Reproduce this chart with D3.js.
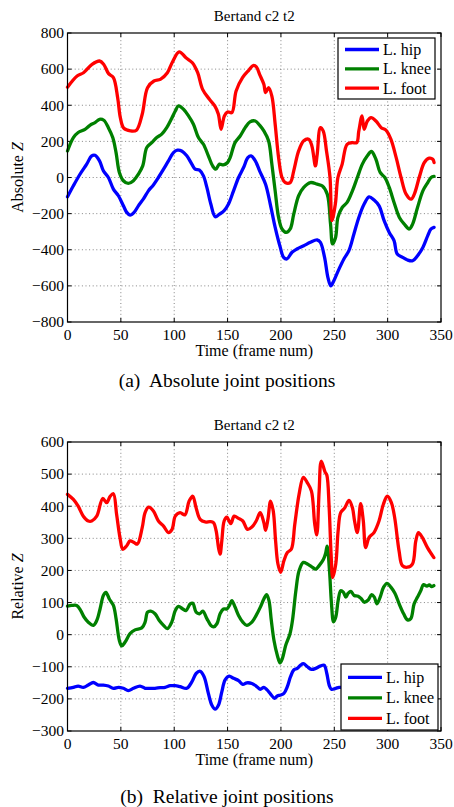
<!DOCTYPE html>
<html>
<head>
<meta charset="utf-8">
<script src="https://cdn.jsdelivr.net/npm/d3@7"></script>
<style>
body{margin:0;background:#fff;}
svg{display:block;}
text{font-family:"Liberation Serif","Times New Roman",serif;fill:#000;}
</style>
</head>
<body>
<div id="chart"></div>
<script>
// frame number, z value pairs
var absHip = [[0,-107],[5.5,-46],[11.7,18],[18,74],[22.7,120],[25.8,123],[30,92],[33.6,37],[38.3,0],[43,-64],[47.7,-101],[52.4,-157],[55.5,-193],[58.6,-208],[62.4,-193],[66.4,-157],[71,-120],[75.8,-74],[80.5,-41],[85.2,0],[90,46],[94.6,92],[99.3,138],[103,151],[107,147],[111.8,120],[116.5,74],[119.6,46],[123.7,41],[127.4,9],[130.6,-55],[134.3,-147],[138.4,-217],[142.4,-203],[146.8,-184],[150.9,-147],[155.6,-74],[160.3,0],[165,55],[169,110],[172,120],[176,92],[180,37],[185.6,-37],[190,-147],[194.6,-276],[199.4,-387],[202.5,-442],[205.6,-451],[210.4,-414],[215,-396],[221.4,-378],[227.6,-359],[234,-346],[237,-359],[240.9,-442],[244,-553],[246.7,-600],[249.6,-571],[254.4,-507],[259,-451],[263.7,-405],[268.4,-313],[273,-221],[278,-147],[282.6,-107],[287.3,-125],[292,-157],[296.7,-239],[301.5,-304],[306,-350],[309,-424],[314,-442],[318.6,-457],[323.4,-461],[328,-433],[333,-387],[337.6,-322],[340.7,-285],[343.5,-276]];
var absKnee = [[0,147],[5.5,221],[10,249],[16.4,267],[21,289],[25.8,304],[30,322],[34,317],[38.3,276],[42.4,221],[45.5,138],[48.6,28],[52.4,-18],[57,-33],[61.8,-18],[66.4,18],[70.5,64],[74.3,166],[79,193],[83.6,221],[88.3,240],[93,276],[97.7,328],[101,368],[104,396],[108.7,378],[113.4,341],[118,295],[122.7,221],[127.4,184],[132,120],[136,64],[139,46],[142.4,74],[146,70],[150,83],[152.4,110],[157,193],[161.8,230],[166.5,276],[171,308],[176,313],[180,290],[184,258],[188.4,203],[191.5,74],[194.6,-74],[197.8,-221],[201,-285],[205,-304],[208.7,-285],[212,-203],[216.6,-101],[221.4,-55],[227.6,-28],[234,-37],[238.6,-46],[243.4,-92],[246.5,-258],[248.4,-368],[251.2,-332],[253.4,-221],[257.4,-166],[262,-138],[267,-74],[271.6,0],[276.3,74],[281,120],[284.8,144],[289,101],[293,28],[297.4,0],[301.5,-55],[306,-138],[311,-221],[315.6,-258],[320.3,-285],[323.4,-258],[328,-166],[333,-74],[337.6,-28],[340.7,0],[343.5,6]];
var absFoot = [[0,500],[9,562],[15,580],[23,626],[30,645],[34,626],[38.5,575],[43,553],[47,442],[49.5,332],[52.7,273],[59,258],[64.6,262],[70,350],[75,497],[81,534],[87,543],[93.6,580],[98,635],[104.6,696],[111,663],[117,635],[122,580],[126.6,488],[133,433],[138,396],[141.4,350],[143.9,267],[147,341],[150,363],[154,359],[158,479],[164,553],[170,595],[174,620],[177,612],[180,571],[184,516],[185.6,470],[188.4,497],[191.5,451],[194.6,295],[197.8,110],[201,0],[204,-28],[208.7,-28],[212,37],[216.6,147],[221.4,203],[226,212],[229,175],[232.3,64],[234,129],[237,276],[239.6,258],[242.7,147],[246,0],[247.8,-239],[251,-147],[253.4,0],[257.4,74],[262,184],[267,193],[271,193],[273,258],[276,341],[278,267],[281,313],[284.5,332],[289,313],[294,276],[298.4,262],[303,212],[308,110],[312.6,0],[317.3,-92],[322,-120],[325,-92],[330,9],[334.4,83],[339,107],[342.3,101],[343.5,83]];

var relHip = [[0,-167],[5.5,-164],[10,-160],[14.8,-164],[19.5,-157],[24.2,-149],[29,-157],[33.6,-157],[38.3,-160],[43,-167],[47.7,-164],[52.4,-167],[57,-174],[61.8,-167],[68,-160],[72.7,-167],[77.4,-167],[82,-167],[86.8,-165],[91.5,-164],[96.2,-159],[100.8,-159],[105.5,-162],[111.8,-167],[116.5,-147],[120.5,-121],[124.3,-114],[128,-131],[132,-183],[135.2,-219],[138.4,-232],[141.5,-219],[144.6,-178],[147.7,-141],[151.5,-129],[155.6,-136],[160.3,-143],[164.3,-155],[168,-150],[172.8,-152],[176.8,-160],[180.6,-170],[184,-164],[187,-172],[190.3,-185],[194,-198],[196.6,-191],[199.7,-188],[202.8,-183],[206,-162],[209,-131],[212,-110],[215.3,-105],[218.4,-95],[221,-90],[224.8,-100],[228.6,-108],[232.6,-105],[236.7,-98],[240.5,-95],[243,-121],[245.2,-157],[247.3,-170],[251.4,-167],[254.5,-164],[260,-165]];
var relKnee = [[0,89],[4,91],[8.6,91],[12.4,75],[15.5,55],[19.5,39],[24.2,29],[27.4,44],[30.5,80],[33.6,122],[36,132],[39.2,111],[43,91],[45.5,50],[48.6,-18],[50.8,-35],[54,-23],[58.6,3],[63.3,15],[69.6,21],[72.7,39],[75,70],[78,73],[82,65],[86,44],[90,29],[93.6,19],[97.7,39],[101,75],[104,88],[108,80],[111,75],[115,96],[117.4,98],[120.5,70],[123.7,65],[126.8,73],[130.6,50],[134.3,29],[136.8,24],[140,34],[143,65],[146.2,80],[149.3,80],[152,93],[154,106],[157,86],[160.3,60],[164.3,39],[168,29],[172.8,39],[176.8,60],[180.6,85],[184,111],[186.6,125],[188.8,106],[191,44],[193.5,-18],[196.6,-64],[199.2,-88],[201.4,-74],[204.5,-33],[208.5,3],[210.8,44],[214,137],[217,199],[221,225],[224.8,220],[228.6,212],[232.6,204],[235.8,215],[239.9,235],[242,255],[243.3,276],[245.5,200],[247.3,100],[249.3,40],[251.4,55],[253.6,106],[256,137],[258.6,132],[260.8,117],[263,129],[265.5,135],[268.6,122],[272.4,120],[275.5,111],[278,101],[281.8,108],[285,125],[287.5,117],[290,96],[293,117],[296.2,148],[299.4,160],[303,148],[306.8,129],[310.8,96],[315,65],[318.6,46],[321.7,50],[324.8,96],[328,117],[331,137],[333.6,156],[336.8,151],[339,155],[341,150],[343.3,153]];
var relFoot = [[0,437],[5.5,421],[10,400],[14.8,369],[19.5,354],[22.7,354],[27.4,369],[33,424],[36.7,411],[40,431],[43,439],[46,375],[49.2,302],[51.8,266],[55.5,277],[58.6,292],[62.4,287],[65.5,282],[70,333],[72.7,380],[76,397],[80.5,385],[85.2,354],[90,338],[94.6,318],[98,328],[101,369],[105.5,380],[110,373],[114,416],[117.4,431],[120.5,395],[124.3,359],[129,351],[133.7,352],[136.8,349],[139.3,323],[141.5,271],[143,251],[144.6,292],[146.8,354],[149.3,366],[153,346],[156.2,369],[160.3,362],[164.3,354],[168.7,328],[172.8,335],[176.8,354],[180.6,380],[184,349],[185.6,325],[187.8,359],[190.3,416],[192.8,385],[195,292],[197.2,220],[199.7,194],[202.8,230],[206,256],[209.7,266],[213,344],[217,437],[221,490],[224.8,473],[228.6,447],[231.7,344],[233.6,311],[235.8,447],[237.8,540],[241.3,507],[243,497],[245.2,395],[247,251],[248.6,178],[251.4,220],[253.6,323],[256,380],[259.8,395],[263.8,418],[267,395],[269,354],[271.6,318],[274.7,408],[277.2,354],[279.4,271],[282.5,302],[287.2,318],[291.9,354],[296,406],[299.7,431],[303.5,411],[306.6,364],[310.7,261],[313.8,215],[318.5,210],[323.2,220],[326.4,292],[328.9,318],[332.6,302],[337.3,271],[343.3,240]];

var frameTicks = [0,50,100,150,200,250,300,350];
var absTicks = [-800,-600,-400,-200,0,200,400,600,800];
var relTicks = [-300,-200,-100,0,100,200,300,400,500,600];
var jointNames = ['L. hip','L. knee','L. foot'];
var jointColors = ['#0000ff','#008000','#ff0000'];

const width = 454;
const height = 807;
const left = 67.5, right = 441;

const svg = d3.select('#chart')
    .append('svg')
    .attr('width', width)
    .attr('height', height);

function drawPanel(p){
    var xScale = d3.scaleLinear().domain([0,350]).range([left, right]);
    var yScale = d3.scaleLinear().domain(p.yDomain).range([p.bottom, p.top]);
    var g = svg.append('g');

    // dotted grid
    g.selectAll('.vgrid').data(frameTicks.slice(1,-1)).join('line')
        .attr('x1', d => xScale(d)).attr('x2', d => xScale(d))
        .attr('y1', p.top).attr('y2', p.bottom)
        .attr('stroke', '#777').attr('stroke-width', 0.9).attr('stroke-dasharray', '1,2.6');
    g.selectAll('.hgrid').data(p.yTicks.slice(1,-1)).join('line')
        .attr('x1', left).attr('x2', right)
        .attr('y1', d => yScale(d)).attr('y2', d => yScale(d))
        .attr('stroke', '#777').attr('stroke-width', 0.9).attr('stroke-dasharray', '1,2.6');

    // inward ticks on all four sides
    var tl = 4;
    frameTicks.forEach(function(d){
        g.append('line').attr('x1', xScale(d)).attr('x2', xScale(d)).attr('y1', p.bottom).attr('y2', p.bottom - tl).attr('stroke', '#000');
        g.append('line').attr('x1', xScale(d)).attr('x2', xScale(d)).attr('y1', p.top).attr('y2', p.top + tl).attr('stroke', '#000');
    });
    p.yTicks.forEach(function(d){
        g.append('line').attr('x1', left).attr('x2', left + tl).attr('y1', yScale(d)).attr('y2', yScale(d)).attr('stroke', '#000');
        g.append('line').attr('x1', right).attr('x2', right - tl).attr('y1', yScale(d)).attr('y2', yScale(d)).attr('stroke', '#000');
    });

    var line = d3.line()
        .x(d => xScale(d[0]))
        .y(d => yScale(d[1]))
        .curve(d3.curveCatmullRom.alpha(0.5));

    p.series.forEach(function(s, i){
        g.append('path')
            .datum(s)
            .attr('d', line)
            .attr('fill', 'none')
            .attr('stroke', jointColors[i])
            .attr('stroke-width', 3.3)
            .attr('stroke-linejoin', 'round')
            .attr('stroke-linecap', 'round');
    });

    // frame
    g.append('rect')
        .attr('x', left).attr('y', p.top)
        .attr('width', right - left).attr('height', p.bottom - p.top)
        .attr('fill', 'none').attr('stroke', '#000').attr('stroke-width', 1.2);

    // tick labels
    g.selectAll('.xl').data(frameTicks).join('text')
        .attr('x', d => xScale(d)).attr('y', p.bottom + 18)
        .attr('text-anchor', 'middle').style('font-size', '15.5px')
        .text(d => d);
    var fmt = d3.format('d');
    g.selectAll('.yl').data(p.yTicks).join('text')
        .attr('x', left - 3.5).attr('y', d => yScale(d) + 5.3)
        .attr('text-anchor', 'end').style('font-size', '15.5px')
        .text(d => fmt(d));

    g.append('text')
        .attr('x', (left + right)/2).attr('y', p.bottom + 34)
        .attr('text-anchor', 'middle').style('font-size', '16px')
        .text('Time (frame num)');

    var yl = g.append('text')
        .attr('transform', 'translate(23,' + ((p.top + p.bottom)/2) + ') rotate(-90)')
        .attr('text-anchor', 'middle').style('font-size', '16px');
    yl.append('tspan').text(p.yLabel + ' ');
    yl.append('tspan').style('font-style', 'italic').text('Z');

    g.append('text')
        .attr('x', (left + right)/2).attr('y', p.top - 12.5)
        .attr('text-anchor', 'middle').style('font-size', '15px')
        .text('Bertand c2 t2');

    g.append('text')
        .attr('x', 227).attr('y', p.captionY)
        .attr('text-anchor', 'middle').style('font-size', '19.5px')
        .attr('xml:space', 'preserve')
        .text(p.caption);

    // legend
    var lg = p.legend;
    g.append('rect')
        .attr('x', lg.x).attr('y', lg.y)
        .attr('width', lg.w).attr('height', lg.h)
        .attr('fill', '#fff').attr('stroke', '#000').attr('stroke-width', 1.2);
    jointNames.forEach(function(n, i){
        var cy = lg.y + lg.first + i*lg.step;
        g.append('line')
            .attr('x1', lg.x + 7).attr('x2', lg.x + 41)
            .attr('y1', cy).attr('y2', cy)
            .attr('stroke', jointColors[i]).attr('stroke-width', 3.3);
        g.append('text')
            .attr('x', lg.x + 45).attr('y', cy + 5.5)
            .style('font-size', '16px')
            .text(n);
    });
}

drawPanel({
    top: 33, bottom: 322,
    yDomain: [-800, 800], yTicks: absTicks,
    series: [absHip, absKnee, absFoot],
    yLabel: 'Absolute',
    caption: '(a)  Absolute joint positions',
    captionY: 387,
    legend: {x: 338, y: 38, w: 97, h: 61, first: 11.5, step: 19.3}
});

drawPanel({
    top: 442, bottom: 731,
    yDomain: [-300, 600], yTicks: relTicks,
    series: [relHip, relKnee, relFoot],
    yLabel: 'Relative',
    caption: '(b)  Relative joint positions',
    captionY: 803,
    legend: {x: 341, y: 664, w: 97, h: 66, first: 13.3, step: 20.5}
});
</script>
</body>
</html>
